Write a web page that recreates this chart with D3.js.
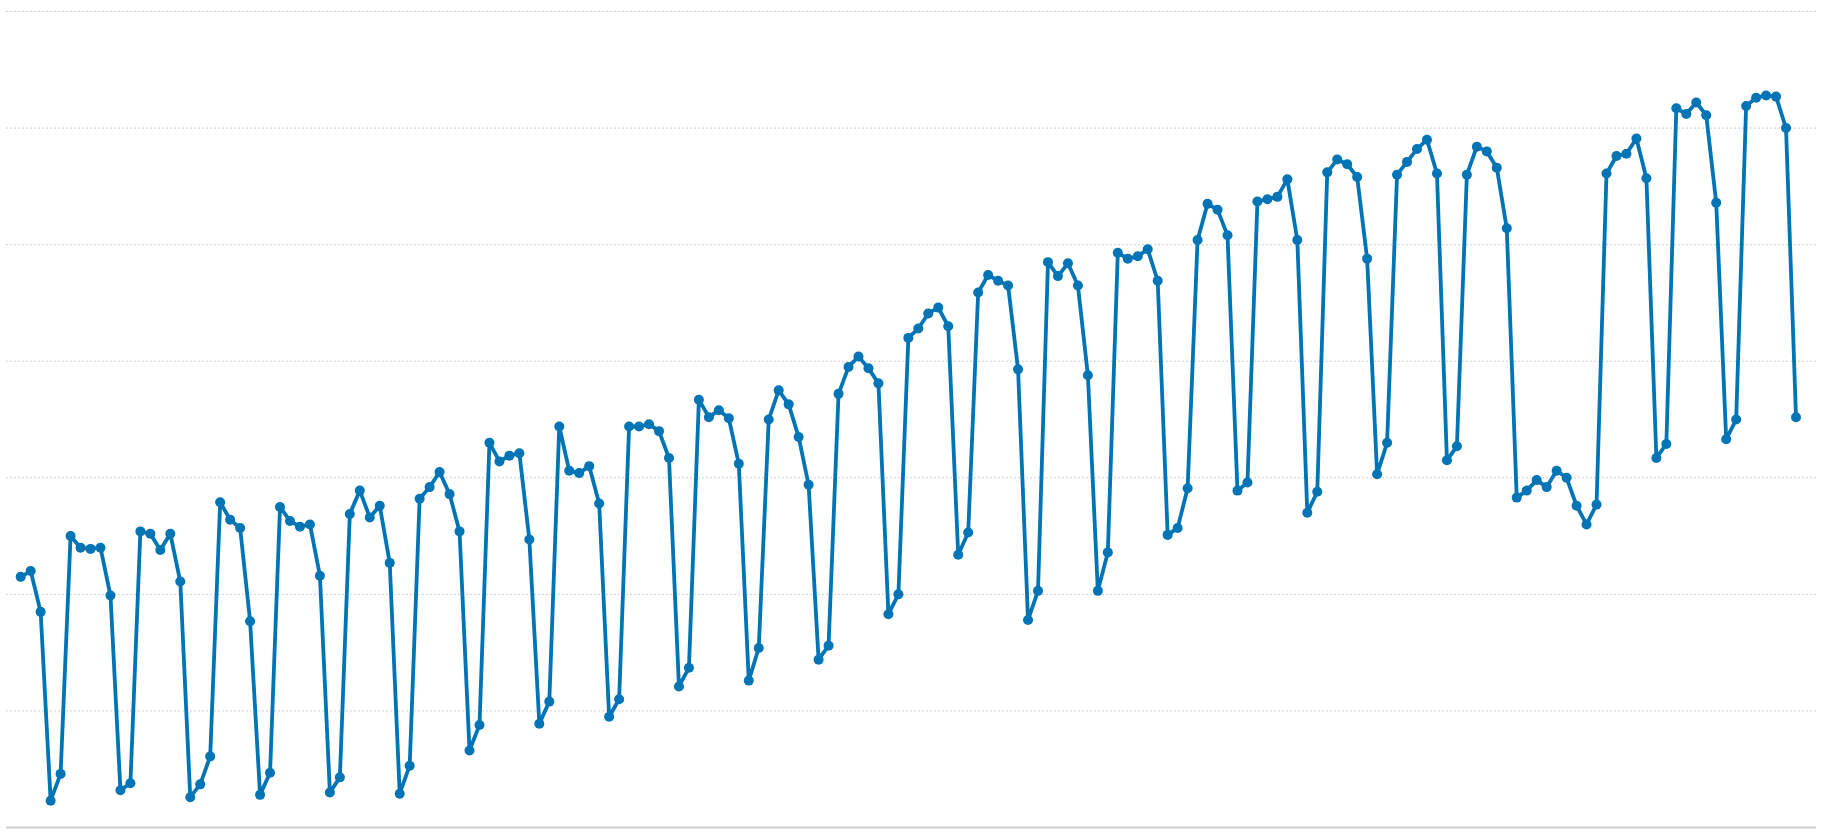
<!DOCTYPE html>
<html>
<head>
<meta charset="utf-8">
<script src="https://cdn.jsdelivr.net/npm/d3@7"></script>
<style>
  html, body { margin: 0; padding: 0; background: #fff; }
  svg { display: block; }
  .grid line { stroke: #cfcfcf; stroke-width: 1; stroke-dasharray: 2,2; }
  .baseline { stroke: #cccccc; stroke-width: 2; }
</style>
</head>
<body>
<script>
// daily values, one per day (starts on a Wednesday)
var values = [
  215, 220, 185, 23, 46, 250, 240, 239, 240, 199,
  32, 38, 254, 252, 238, 252, 211, 26, 37, 61,
  279, 264, 257, 177, 28, 47, 275, 263, 258, 260,
  216, 30, 43, 269, 289, 266, 276, 227, 29, 53,
  282, 292, 305, 286, 254, 66, 88, 330, 314, 319,
  321, 247, 89, 108, 344, 306, 304, 310, 278, 95,
  110, 344, 344, 346, 340, 317, 121, 137, 367, 352,
  358, 351, 312, 126, 154, 350, 375, 363, 335, 294,
  144, 156, 372, 395, 404, 394, 381, 183, 200, 420,
  428, 441, 446, 430, 234, 253, 459, 474, 469, 465,
  393, 178, 203, 485, 473, 484, 465, 388, 203, 236,
  493, 488, 490, 496, 469, 251, 257, 291, 504, 535,
  530, 508, 289, 296, 537, 539, 541, 556, 504, 270,
  288, 562, 573, 569, 558, 488, 303, 330, 560, 571,
  582, 590, 561, 315, 327, 560, 584, 580, 566, 514,
  283, 289, 298, 292, 306, 300, 276, 260, 277, 561,
  576, 578, 591, 557, 317, 329, 617, 612, 622, 611,
  536, 333, 350, 619, 626, 628, 627, 600, 352
];
var gridTicks = [100, 200, 300, 400, 500, 600, 700];

var w = 1822;
var h = 838;

var svg = d3.select("body").
append("svg").
attr("width", w).
attr("height", h);

var x = d3.scaleLinear().
domain([0, values.length - 1]).
range([20.7, 1796]);

var y = d3.scaleLinear().
domain([0, 700]).
range([827.5, 11.5]);

// dotted horizontal grid
svg.append("g").
attr("class", "grid").
selectAll("line").
data(gridTicks).
enter().append("line").
attr("x1", 6).
attr("x2", 1816).
attr("y1", function (d) {return y(d);}).
attr("y2", function (d) {return y(d);});

// baseline
svg.append("line").
attr("class", "baseline").
attr("x1", 6).
attr("x2", 1816).
attr("y1", y(0)).
attr("y2", y(0));

var line = d3.line().
x(function (d, i) {return x(i);}).
y(function (d) {return y(d);});

svg.append("path").
datum(values).
attr("fill", "none").
attr("stroke", "#0074b5").
attr("stroke-width", 3.8).
attr("stroke-linejoin", "round").
attr("d", line);

svg.append("g").
selectAll("circle").
data(values).
enter().append("circle").
attr("cx", function (d, i) {return x(i);}).
attr("cy", function (d) {return y(d);}).
attr("r", 5).
attr("fill", "#0074b5");
</script>
</body>
</html>
